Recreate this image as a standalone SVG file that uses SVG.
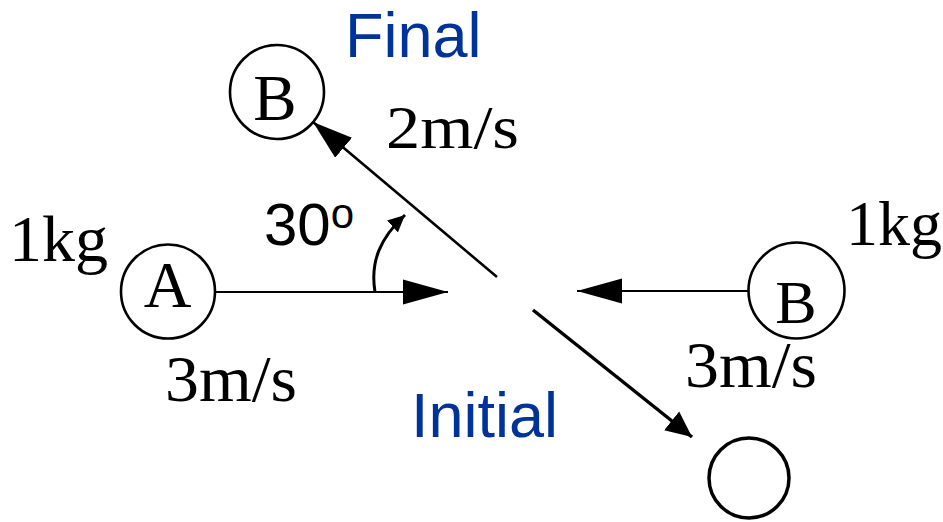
<svg xmlns="http://www.w3.org/2000/svg" width="943" height="522" viewBox="0 0 943 522">
  <style>
    .ball { fill: #ffffff; stroke: #000000; stroke-width: 2.6; }
    .ball2 { fill: #ffffff; stroke: #000000; stroke-width: 3.5; }
    .conn { fill: none; stroke: #000000; stroke-linecap: butt; }
    .serif { font-family: "Liberation Serif", "Times New Roman", serif; fill: #000000; }
    .sans { font-family: "Liberation Sans", Arial, sans-serif; fill: #000000; }
    .blue { font-family: "Liberation Sans", Arial, sans-serif; fill: #003399; font-size: 63px; }
  </style>
  <defs>
    <marker id="headH" markerUnits="userSpaceOnUse" markerWidth="46" markerHeight="26" refX="45" refY="13" orient="auto" viewBox="0 0 46 26">
      <path d="M0,0.5 L45,13 L0,25.5 z" fill="#000000"/>
    </marker>
    <marker id="headD" markerUnits="userSpaceOnUse" markerWidth="41" markerHeight="27" refX="40" refY="13.5" orient="auto" viewBox="0 0 41 27">
      <path d="M0,0.5 L40,13.5 L0,26.5 z" fill="#000000"/>
    </marker>
    <marker id="headS" markerUnits="userSpaceOnUse" markerWidth="27" markerHeight="25" refX="26" refY="12.5" orient="auto" viewBox="0 0 27 25">
      <path d="M0,0.5 L26,12.5 L0,24.5 z" fill="#000000"/>
    </marker>
    <marker id="headArc" markerUnits="userSpaceOnUse" markerWidth="18" markerHeight="17" refX="17" refY="8.5" orient="auto" viewBox="0 0 18 17">
      <path d="M0,0.5 L17,8.5 L0,16.5 z" fill="#000000"/>
    </marker>
  </defs>

  <g id="connectors">
    <line class="conn" x1="215" y1="292" x2="448" y2="292" stroke-width="2" marker-end="url(#headH)"/>
    <line class="conn" x1="749" y1="291" x2="577" y2="291" stroke-width="2" marker-end="url(#headH)"/>
    <line class="conn" x1="497" y1="277" x2="313" y2="122" stroke-width="2.6" marker-end="url(#headD)"/>
    <line class="conn" x1="533" y1="310" x2="692" y2="437" stroke-width="3.5" marker-end="url(#headS)"/>
    <path class="conn" d="M375,292 C370,262 380,238 405,215" stroke-width="3" marker-end="url(#headArc)"/>
  </g>

  <g id="ballA-initial">
    <circle class="ball" cx="168" cy="291.5" r="47"/>
    <text class="serif" x="167.5" y="307" font-size="66" text-anchor="middle">A</text>
    <text class="serif" x="9" y="261" font-size="66">1kg</text>
    <text class="serif" x="165" y="401" font-size="65" textLength="132" lengthAdjust="spacingAndGlyphs">3m/s</text>
  </g>

  <g id="ballB-initial">
    <circle class="ball" cx="796.5" cy="290.5" r="48"/>
    <text class="serif" x="796" y="323" font-size="62" text-anchor="middle">B</text>
    <text class="serif" x="846" y="245" font-size="64">1kg</text>
    <text class="serif" x="685" y="387" font-size="65" textLength="132" lengthAdjust="spacingAndGlyphs">3m/s</text>
  </g>

  <g id="ballB-final">
    <circle class="ball" cx="277" cy="92" r="47"/>
    <text class="serif" x="275" y="120" font-size="65" text-anchor="middle">B</text>
    <text class="serif" x="386" y="148" font-size="62" textLength="133" lengthAdjust="spacingAndGlyphs">2m/s</text>
  </g>

  <g id="ballA-final">
    <circle class="ball2" cx="749" cy="478" r="40"/>
  </g>

  <g id="labels">
    <text class="blue" x="345" y="57">Final</text>
    <text class="blue" x="411" y="437">Initial</text>
    <text class="sans" x="264" y="245" font-size="60">30<tspan font-size="42" dy="-17">o</tspan></text>
  </g>
</svg>
